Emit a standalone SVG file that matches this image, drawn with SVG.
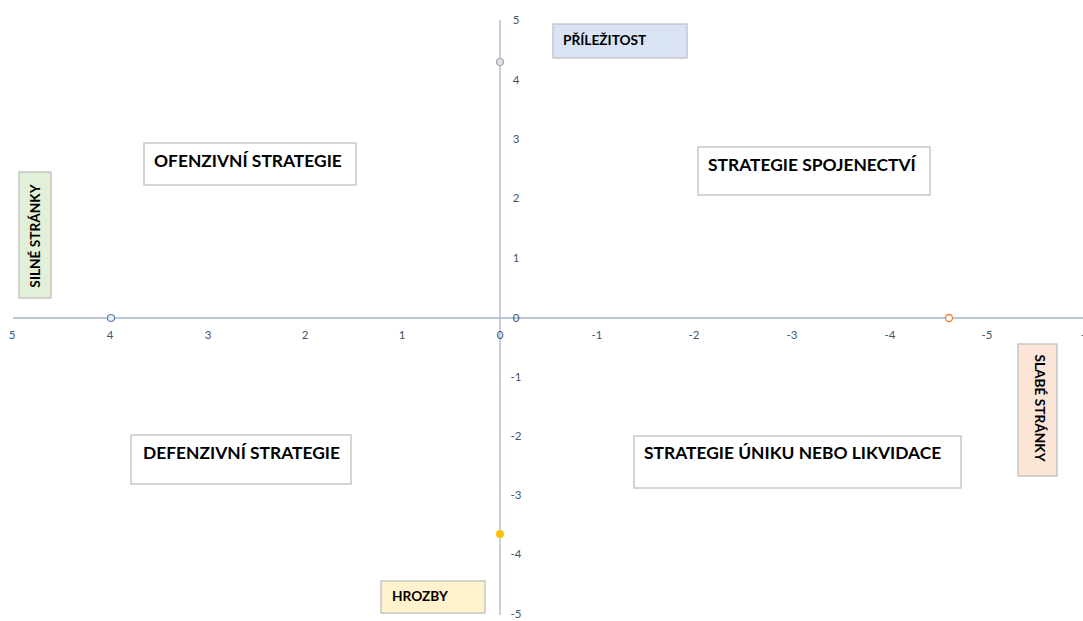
<svg xmlns="http://www.w3.org/2000/svg" width="1083" height="621" viewBox="0 0 1083 621">
<style>
.ax{stroke:#a5b6cf;stroke-width:1.3;fill:none}
.tk{font-family:Lato,"Liberation Sans",sans-serif;font-size:11.5px;fill:#44546a}
.bx{stroke:#bfbfbf;stroke-width:1.3}
.lb{font-family:Lato,"Liberation Sans",sans-serif;font-weight:bold;fill:#000}
.big{font-size:17.4px}
.sm{font-size:13.7px}
</style>
<rect width="1083" height="621" fill="#fff"/>
<g id="axes">
<line class="ax" x1="13" y1="318" x2="1083" y2="318"/>
<line class="ax" x1="500" y1="20" x2="500" y2="615"/>
<g class="tk" text-anchor="middle">
<text x="12" y="339">5</text><text x="110" y="339">4</text><text x="208" y="339">3</text><text x="305" y="339">2</text><text x="402" y="339">1</text><text x="500" y="339">0</text><text x="597" y="339">-1</text><text x="694" y="339">-2</text><text x="792" y="339">-3</text><text x="890" y="339">-4</text><text x="987" y="339">-5</text><text x="1083" y="339">-</text>
</g>
<g class="tk" text-anchor="middle">
<text x="516" y="24">5</text><text x="516" y="84">4</text><text x="516" y="143">3</text><text x="516" y="202">2</text><text x="516" y="262">1</text><text x="516" y="322">0</text><text x="516" y="381">-1</text><text x="516" y="440">-2</text><text x="516" y="499">-3</text><text x="516" y="558">-4</text><text x="516" y="618">-5</text>
</g>
</g>
<g id="points">
<circle cx="500" cy="62" r="3.5" fill="#dde3ea" stroke="#a5a5a5" stroke-width="1.2"/>
<circle cx="111" cy="318" r="3.5" fill="#e8eef6" stroke="#5b83b6" stroke-width="1.2"/>
<circle cx="949" cy="318" r="3.5" fill="#fff" stroke="#ed7d31" stroke-width="1.3"/>
<circle cx="500" cy="534" r="4" fill="#ffc000"/>
</g>
<g id="prilezitost">
<rect class="bx" x="553" y="24" width="134" height="34" fill="#dae3f3"/>
<text class="lb sm" x="563" y="45">PŘÍLEŽITOST</text>
</g>
<g id="ofenzivni">
<rect class="bx" x="144" y="143" width="212" height="42" fill="#fff"/>
<text class="lb big" x="154" y="167">OFENZIVNÍ STRATEGIE</text>
</g>
<g id="spojenectvi">
<rect class="bx" x="698" y="147" width="232" height="48" fill="#fff"/>
<text class="lb big" x="708" y="171">STRATEGIE SPOJENECTVÍ</text>
</g>
<g id="silne">
<rect class="bx" x="19" y="172" width="32" height="126" fill="#e2f0d9"/>
<text class="lb sm" transform="translate(40,236) rotate(-90)" text-anchor="middle">SILNÉ STRÁNKY</text>
</g>
<g id="slabe">
<rect class="bx" x="1018" y="344" width="39" height="132" fill="#fbe5d6"/>
<text class="lb sm" transform="translate(1035,408) rotate(90)" text-anchor="middle">SLABÉ STRÁNKY</text>
</g>
<g id="defenzivni">
<rect class="bx" x="131" y="435" width="220" height="49" fill="#fff"/>
<text class="lb big" x="143" y="459">DEFENZIVNÍ STRATEGIE</text>
</g>
<g id="uniku">
<rect class="bx" x="634" y="436" width="327" height="52" fill="#fff"/>
<text class="lb big" x="644" y="459">STRATEGIE ÚNIKU NEBO LIKVIDACE</text>
</g>
<g id="hrozby">
<rect class="bx" x="381" y="581" width="104" height="32" fill="#fff2cc"/>
<text class="lb sm" x="392" y="601">HROZBY</text>
</g>
</svg>
